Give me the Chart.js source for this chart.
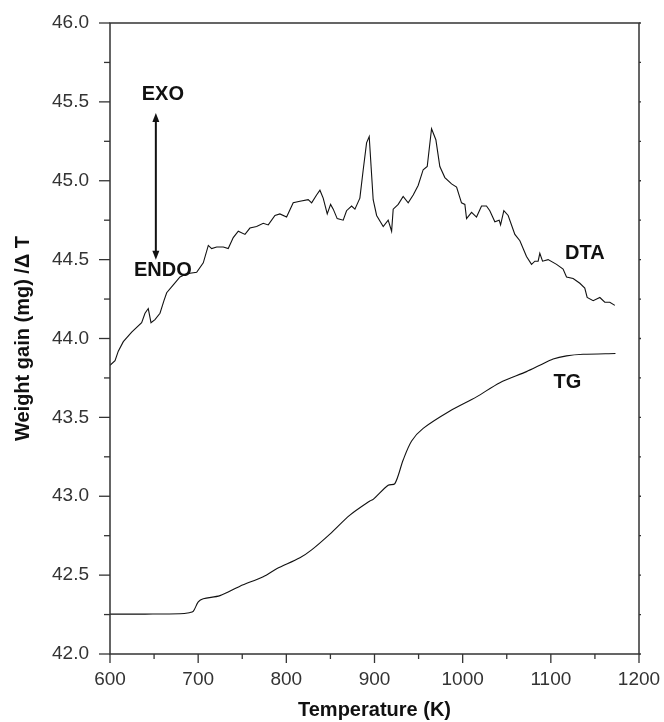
<!DOCTYPE html>
<html>
<head>
<meta charset="utf-8">
<title>DTA / TG</title>
<script src="https://cdn.jsdelivr.net/npm/chart.js@4/dist/chart.umd.min.js"></script>
<style>
  html, body { margin: 0; padding: 0; background: #fff; }
  #wrap { width: 664px; height: 722px; }
</style>
</head>
<body>
<div id="wrap"><canvas id="chart"></canvas></div>
<script>
// Temperature (K) and signal values
const dtaTemp = [600, 605.7, 609.4, 615.1, 624.6, 635.9, 639.7, 643.4, 646.5, 651, 656.7, 661.2, 664.3, 671.8, 679.4, 687, 698.3, 705.8, 711.5, 715.3, 721, 728.5, 734.1, 739.8, 745.5, 753.1, 758.7, 766.3, 773.8, 779.5, 787.1, 792.7, 800.3, 807.8, 815.4, 824.8, 828.7, 834.3, 838.1, 841.8, 846.4, 850.2, 853.2, 857.7, 864.5, 868.3, 874, 877.8, 883.4, 887.2, 891, 894, 898.5, 902.4, 909.9, 915.5, 919.4, 921.2, 926.9, 932.5, 938.2, 943.9, 949.5, 955.2, 959.8, 964.7, 969.6, 974.1, 979.8, 987.4, 993.1, 998.7, 1002.5, 1004.4, 1010.1, 1015.7, 1021.4, 1027, 1030.8, 1036.5, 1041.4, 1043, 1046.7, 1051.6, 1059.2, 1064.9, 1072.4, 1078.1, 1081.9, 1085.6, 1087.5, 1090.6, 1096.9, 1106.5, 1113.9, 1117.8, 1125.3, 1132.9, 1138.5, 1141.2, 1148, 1155.6, 1161.2, 1166.9, 1172.6];
const dtaValues = [43.83, 43.86, 43.92, 43.98, 44.04, 44.10, 44.16, 44.19, 44.10, 44.12, 44.16, 44.24, 44.29, 44.34, 44.39, 44.41, 44.42, 44.48, 44.59, 44.57, 44.58, 44.58, 44.57, 44.64, 44.68, 44.66, 44.70, 44.71, 44.73, 44.72, 44.78, 44.79, 44.77, 44.86, 44.87, 44.88, 44.86, 44.91, 44.94, 44.89, 44.79, 44.85, 44.82, 44.76, 44.75, 44.81, 44.84, 44.82, 44.89, 45.07, 45.24, 45.28, 44.88, 44.78, 44.71, 44.75, 44.68, 44.82, 44.85, 44.90, 44.86, 44.91, 44.97, 45.07, 45.09, 45.33, 45.26, 45.09, 45.02, 44.98, 44.96, 44.86, 44.85, 44.76, 44.80, 44.77, 44.84, 44.84, 44.81, 44.74, 44.75, 44.72, 44.81, 44.78, 44.66, 44.62, 44.52, 44.47, 44.49, 44.49, 44.54, 44.49, 44.50, 44.47, 44.44, 44.39, 44.38, 44.35, 44.32, 44.26, 44.24, 44.26, 44.23, 44.23, 44.21];

const tgTemp = [600, 640, 679.4, 690, 694.4, 700.1, 705.8, 724.7, 747.4, 773.8, 789, 815.4, 828.7, 849.4, 872.1, 894.8, 898.5, 915.5, 923.1, 932.5, 942.1, 955.2, 985.5, 1015.7, 1042.2, 1072.4, 1087.5, 1102.6, 1117.8, 1136.6, 1173.3];
const tgValues = [42.253, 42.253, 42.255, 42.262, 42.27, 42.33, 42.35, 42.37, 42.43, 42.49, 42.54, 42.61, 42.66, 42.76, 42.88, 42.97, 42.98, 43.07, 43.08, 43.23, 43.35, 43.43, 43.54, 43.63, 43.72, 43.79, 43.83, 43.87, 43.89, 43.90, 43.905];

const xTicks = [600, 700, 800, 900, 1000, 1100, 1200];
const yTicks = [42.0, 42.5, 43.0, 43.5, 44.0, 44.5, 45.0, 45.5, 46.0];

// text labels inside the plot (x in K, y in axis units)
const notes = [
  { text: "EXO", x: 660, y: 45.55 },
  { text: "ENDO", x: 660, y: 44.43 },
  { text: "DTA", x: 1138.5, y: 44.54 },
  { text: "TG", x: 1118.7, y: 43.72 },
];
const arrowX = 652;
const arrowFrom = 44.50;
const arrowTo = 45.43;

const FONT = "'Liberation Sans', Arial, sans-serif";
const INK = "#111";

function toPoints(xs, ys) {
  return xs.map((x, i) => ({ x: x, y: ys[i] }));
}

// frame, minor/major ticks, arrow and text notes
const decorations = {
  id: "decorations",
  afterDraw(chart) {
    const ctx = chart.ctx;
    const a = chart.chartArea;
    const xs = chart.scales.x;
    const ys = chart.scales.y;
    ctx.save();

    // frame
    ctx.strokeStyle = "#333";
    ctx.lineWidth = 1.5;
    ctx.strokeRect(a.left, a.top, a.right - a.left, a.bottom - a.top);

    // x ticks (every 50, long at every 100)
    ctx.lineWidth = 1.3;
    for (let t = 600; t <= 1200; t += 50) {
      const px = xs.getPixelForValue(t);
      const len = t % 100 === 0 ? 9 : 5;
      ctx.beginPath();
      ctx.moveTo(px, a.bottom);
      ctx.lineTo(px, a.bottom + len);
      ctx.stroke();
    }
    // y ticks (every 0.25, long at every 0.5)
    for (let i = 0; i <= 16; i++) {
      const v = 42 + i * 0.25;
      const py = ys.getPixelForValue(v);
      const len = i % 2 === 0 ? 11 : 6;
      ctx.beginPath();
      ctx.moveTo(a.left, py);
      ctx.lineTo(a.left - len, py);
      ctx.stroke();
      ctx.beginPath();
      ctx.moveTo(a.right, py);
      ctx.lineTo(a.right + 2, py);
      ctx.stroke();
    }

    // EXO / ENDO arrow
    const ax = xs.getPixelForValue(arrowX);
    const y1 = ys.getPixelForValue(arrowFrom);
    const y2 = ys.getPixelForValue(arrowTo);
    ctx.strokeStyle = INK;
    ctx.fillStyle = INK;
    ctx.lineWidth = 2;
    ctx.beginPath();
    ctx.moveTo(ax, y1 - 6);
    ctx.lineTo(ax, y2 + 6);
    ctx.stroke();
    ctx.beginPath();
    ctx.moveTo(ax, y2);
    ctx.lineTo(ax - 3.5, y2 + 9);
    ctx.lineTo(ax + 3.5, y2 + 9);
    ctx.closePath();
    ctx.fill();
    ctx.beginPath();
    ctx.moveTo(ax, y1);
    ctx.lineTo(ax - 3.5, y1 - 9);
    ctx.lineTo(ax + 3.5, y1 - 9);
    ctx.closePath();
    ctx.fill();

    // notes
    ctx.font = "bold 20px " + FONT;
    ctx.textAlign = "center";
    ctx.textBaseline = "middle";
    notes.forEach((n) => {
      ctx.fillText(n.text, xs.getPixelForValue(n.x), ys.getPixelForValue(n.y));
    });
    ctx.restore();
  },
};

new Chart(document.getElementById("chart"), {
  type: "line",
  data: {
    datasets: [
      {
        label: "DTA",
        data: toPoints(dtaTemp, dtaValues),
        borderColor: INK,
        borderWidth: 1.1,
        pointRadius: 0,
        tension: 0,
        fill: false,
      },
      {
        label: "TG",
        data: toPoints(tgTemp, tgValues),
        borderColor: INK,
        borderWidth: 1.1,
        pointRadius: 0,
        tension: 0.3,
        fill: false,
      },
    ],
  },
  options: {
    responsive: true,
    maintainAspectRatio: false,
    animation: false,
    events: [],
    layout: { padding: { top: 23, right: 25, left: 0, bottom: 0 } },
    plugins: { legend: { display: false }, tooltip: { enabled: false } },
    scales: {
      x: {
        type: "linear",
        min: 600,
        max: 1200,
        afterBuildTicks: (s) => { s.ticks = xTicks.map((v) => ({ value: v })); },
        afterFit: (s) => {
          s.height = 68;
          s.paddingLeft = 0;
          s.paddingRight = 0;
        },
        grid: { display: false, drawTicks: false },
        border: { display: false },
        ticks: {
          padding: 14,
          color: "#333",
          font: { family: FONT, size: 19 },
          maxRotation: 0,
          callback: (v) => String(v),
        },
        title: {
          display: true,
          text: "Temperature (K)",
          color: INK,
          font: { family: FONT, size: 20, weight: "bold" },
          padding: { top: 0, bottom: 0 },
        },
      },
      y: {
        type: "linear",
        min: 42,
        max: 46,
        afterBuildTicks: (s) => { s.ticks = yTicks.map((v) => ({ value: v })); },
        afterFit: (s) => {
          s.width = 110;
          s.paddingTop = 0;
          s.paddingBottom = 0;
        },
        grid: { display: false, drawTicks: false },
        border: { display: false },
        ticks: {
          padding: 21,
          color: "#333",
          font: { family: FONT, size: 19 },
          callback: (v) => Number(v).toFixed(1),
        },
        title: {
          display: true,
          text: "Weight gain (mg) /\u0394 T",
          color: INK,
          font: { family: FONT, size: 20, weight: "bold" },
          padding: { top: 11, bottom: 0 },
        },
      },
    },
  },
  plugins: [decorations],
});
</script>
</body>
</html>
